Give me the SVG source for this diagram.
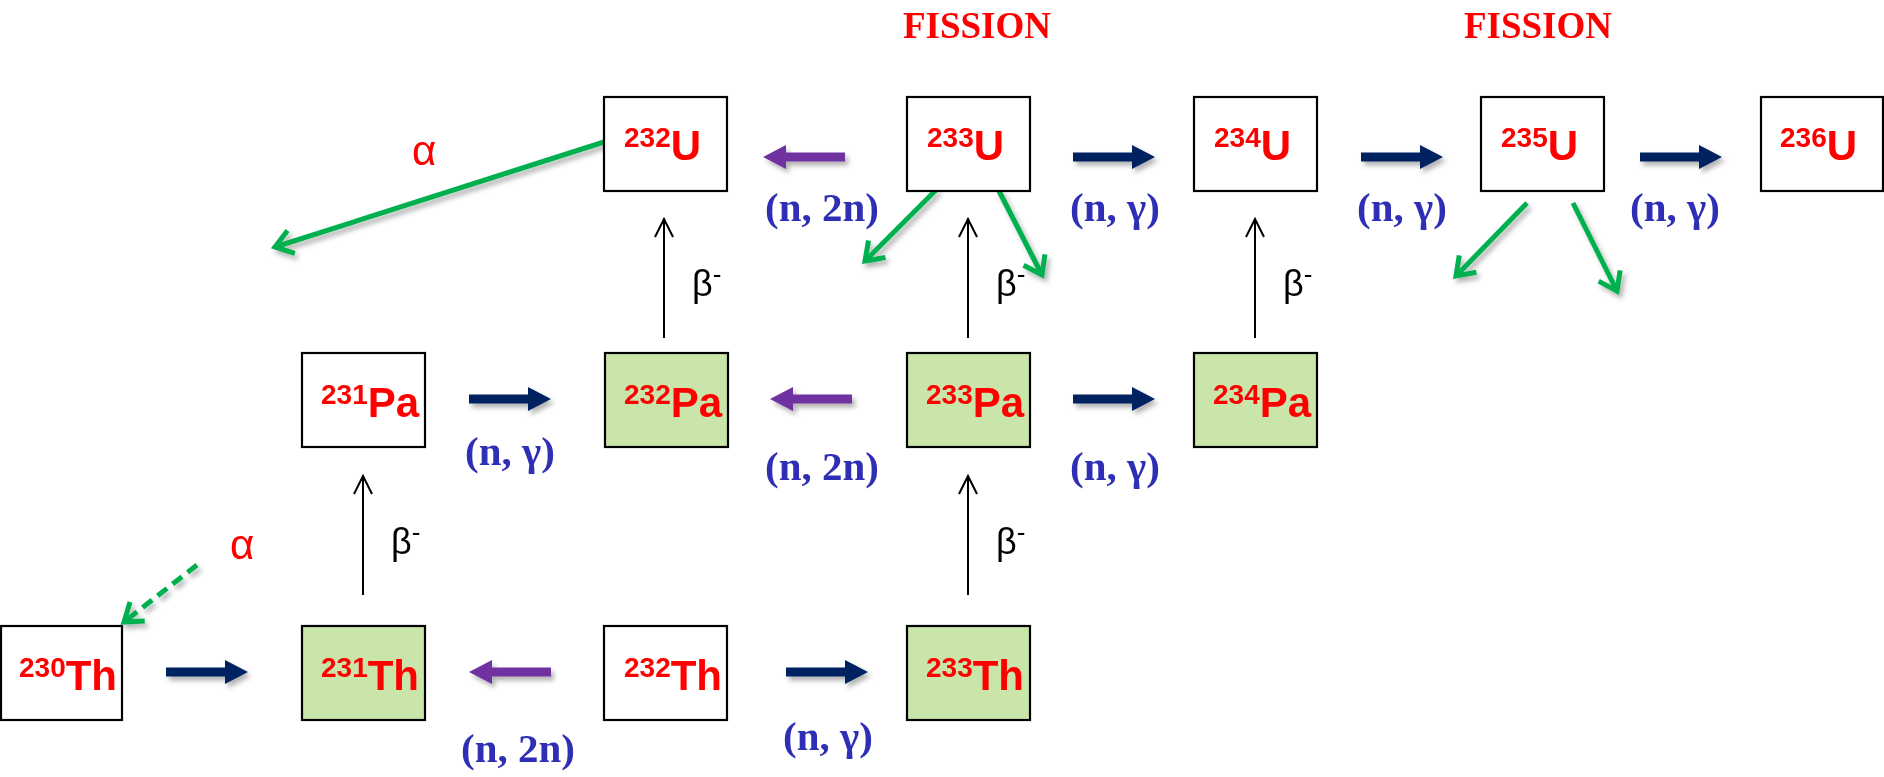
<svg xmlns="http://www.w3.org/2000/svg" xmlns:xlink="http://www.w3.org/1999/xlink" width="1884" height="777" viewBox="0 0 1884 777">
<style>
.box{stroke:#000;stroke-width:2.2}
.w{fill:#fff}
.g{fill:#C9E5A9}
.nuc{font-family:"Liberation Sans",Arial,sans-serif;font-weight:bold;font-size:42px;fill:#FF0000}
.sup{font-size:28px}
.rx{font-family:"Liberation Serif","Times New Roman",serif;font-weight:bold;font-size:41px;fill:#2F2FB5;text-anchor:middle}
.fis{font-family:"Liberation Serif","Times New Roman",serif;font-weight:bold;font-size:37px;fill:#FF0000;text-anchor:middle}
.alpha{font-family:"Liberation Sans",Arial,sans-serif;font-size:42px;fill:#FF0000}
.beta{font-family:"Liberation Sans",Arial,sans-serif;font-size:36px;fill:#000}
.bsup{font-size:26px}
.navy{fill:#002060}
.purp{fill:#7030A0}
.grn{stroke:#00B050;stroke-width:5;fill:none}
.bline{stroke:#000;stroke-width:2;fill:none}
</style>
<defs>
<filter id="sh" filterUnits="userSpaceOnUse" x="0" y="0" width="1884" height="777">
<feDropShadow dx="3" dy="4" stdDeviation="2.5" flood-color="#000" flood-opacity="0.3"/>
</filter>
<path id="blk" d="M0,-4.5 H59 V-12 L82,0 L59,12 V4.5 H0 Z"/>
<marker id="gh" markerUnits="userSpaceOnUse" viewBox="-24 -18 30 36" markerWidth="30" markerHeight="36" refX="0" refY="0" orient="auto">
<path d="M-17,-12 L0,0 L-17,12" stroke="#00B050" stroke-width="5" fill="none"/>
</marker>
<marker id="bh" markerUnits="userSpaceOnUse" viewBox="-22 -12 26 24" markerWidth="26" markerHeight="24" refX="0" refY="0" orient="auto">
<path d="M-18,-9 L0,0 L-18,9" stroke="#000" stroke-width="2" fill="none"/>
</marker>
</defs>
<rect width="1884" height="777" fill="#fff"/>

<g id="connectors">
<g filter="url(#sh)">
<use xlink:href="#blk" href="#blk" class="navy" transform="translate(166,672)"/>
<use xlink:href="#blk" href="#blk" class="navy" transform="translate(786,672)"/>
<use xlink:href="#blk" href="#blk" class="navy" transform="translate(469,399)"/>
<use xlink:href="#blk" href="#blk" class="navy" transform="translate(1073,399)"/>
<use xlink:href="#blk" href="#blk" class="navy" transform="translate(1073,157)"/>
<use xlink:href="#blk" href="#blk" class="navy" transform="translate(1361,157)"/>
<use xlink:href="#blk" href="#blk" class="navy" transform="translate(1640,157)"/>
<use xlink:href="#blk" href="#blk" class="purp" transform="translate(551,672) scale(-1,1)"/>
<use xlink:href="#blk" href="#blk" class="purp" transform="translate(852,399) scale(-1,1)"/>
<use xlink:href="#blk" href="#blk" class="purp" transform="translate(845,157) scale(-1,1)"/>
<line class="grn" x1="604" y1="142" x2="275" y2="247" marker-end="url(#gh)"/>
<line class="grn" x1="937" y1="189" x2="865" y2="261" marker-end="url(#gh)"/>
<line class="grn" x1="998" y1="189" x2="1042" y2="275" marker-end="url(#gh)"/>
<line class="grn" x1="1527" y1="203" x2="1456" y2="276" marker-end="url(#gh)"/>
<line class="grn" x1="1573" y1="203" x2="1617" y2="291" marker-end="url(#gh)"/>
<line class="grn" x1="197" y1="565" x2="124" y2="622" stroke-dasharray="12,7" marker-end="url(#gh)"/>
</g>
<line class="bline" x1="664" y1="338" x2="664" y2="219" marker-end="url(#bh)"/>
<line class="bline" x1="968" y1="338" x2="968" y2="219" marker-end="url(#bh)"/>
<line class="bline" x1="1255" y1="338" x2="1255" y2="219" marker-end="url(#bh)"/>
<line class="bline" x1="363" y1="595" x2="363" y2="476" marker-end="url(#bh)"/>
<line class="bline" x1="968" y1="595" x2="968" y2="476" marker-end="url(#bh)"/>
</g>

<g id="labels">
<text class="fis" x="977" y="38">FISSION</text>
<text class="fis" x="1538" y="38">FISSION</text>
<text class="rx" x="822" y="221">(n, 2n)</text>
<text class="rx" x="1115" y="221">(n, γ)</text>
<text class="rx" x="1402" y="221">(n, γ)</text>
<text class="rx" x="1675" y="221">(n, γ)</text>
<text class="rx" x="510" y="465">(n, γ)</text>
<text class="rx" x="822" y="480">(n, 2n)</text>
<text class="rx" x="1115" y="480">(n, γ)</text>
<text class="rx" x="518" y="762">(n, 2n)</text>
<text class="rx" x="828" y="750">(n, γ)</text>
<text class="alpha" x="412" y="165">α</text>
<text class="alpha" x="230" y="559">α</text>
<text class="beta" x="692" y="296">β<tspan class="bsup" dy="-13">-</tspan></text>
<text class="beta" x="996" y="296">β<tspan class="bsup" dy="-13">-</tspan></text>
<text class="beta" x="1283" y="296">β<tspan class="bsup" dy="-13">-</tspan></text>
<text class="beta" x="391" y="554">β<tspan class="bsup" dy="-13">-</tspan></text>
<text class="beta" x="996" y="554">β<tspan class="bsup" dy="-13">-</tspan></text>
</g>

<g id="U232"><rect class="box w" x="604" y="97" width="123" height="94"/><text class="nuc" x="624" y="160"><tspan class="sup" dy="-13">232</tspan><tspan dy="13">U</tspan></text></g>
<g id="U233"><rect class="box w" x="907" y="97" width="123" height="94"/><text class="nuc" x="927" y="160"><tspan class="sup" dy="-13">233</tspan><tspan dy="13">U</tspan></text></g>
<g id="U234"><rect class="box w" x="1194" y="97" width="123" height="94"/><text class="nuc" x="1214" y="160"><tspan class="sup" dy="-13">234</tspan><tspan dy="13">U</tspan></text></g>
<g id="U235"><rect class="box w" x="1481" y="97" width="123" height="94"/><text class="nuc" x="1501" y="160"><tspan class="sup" dy="-13">235</tspan><tspan dy="13">U</tspan></text></g>
<g id="U236"><rect class="box w" x="1761" y="97" width="122" height="94"/><text class="nuc" x="1780" y="160"><tspan class="sup" dy="-13">236</tspan><tspan dy="13">U</tspan></text></g>

<g id="Pa231"><rect class="box w" x="302" y="353" width="123" height="94"/><text class="nuc" x="321" y="417"><tspan class="sup" dy="-13">231</tspan><tspan dy="13">Pa</tspan></text></g>
<g id="Pa232"><rect class="box g" x="605" y="353" width="123" height="94"/><text class="nuc" x="624" y="417"><tspan class="sup" dy="-13">232</tspan><tspan dy="13">Pa</tspan></text></g>
<g id="Pa233"><rect class="box g" x="907" y="353" width="123" height="94"/><text class="nuc" x="926" y="417"><tspan class="sup" dy="-13">233</tspan><tspan dy="13">Pa</tspan></text></g>
<g id="Pa234"><rect class="box g" x="1194" y="353" width="123" height="94"/><text class="nuc" x="1213" y="417"><tspan class="sup" dy="-13">234</tspan><tspan dy="13">Pa</tspan></text></g>

<g id="Th230"><rect class="box w" x="1" y="626" width="121" height="94"/><text class="nuc" x="19" y="690"><tspan class="sup" dy="-13">230</tspan><tspan dy="13">Th</tspan></text></g>
<g id="Th231"><rect class="box g" x="302" y="626" width="123" height="94"/><text class="nuc" x="321" y="690"><tspan class="sup" dy="-13">231</tspan><tspan dy="13">Th</tspan></text></g>
<g id="Th232"><rect class="box w" x="604" y="626" width="123" height="94"/><text class="nuc" x="624" y="690"><tspan class="sup" dy="-13">232</tspan><tspan dy="13">Th</tspan></text></g>
<g id="Th233"><rect class="box g" x="907" y="626" width="123" height="94"/><text class="nuc" x="926" y="690"><tspan class="sup" dy="-13">233</tspan><tspan dy="13">Th</tspan></text></g>
</svg>
